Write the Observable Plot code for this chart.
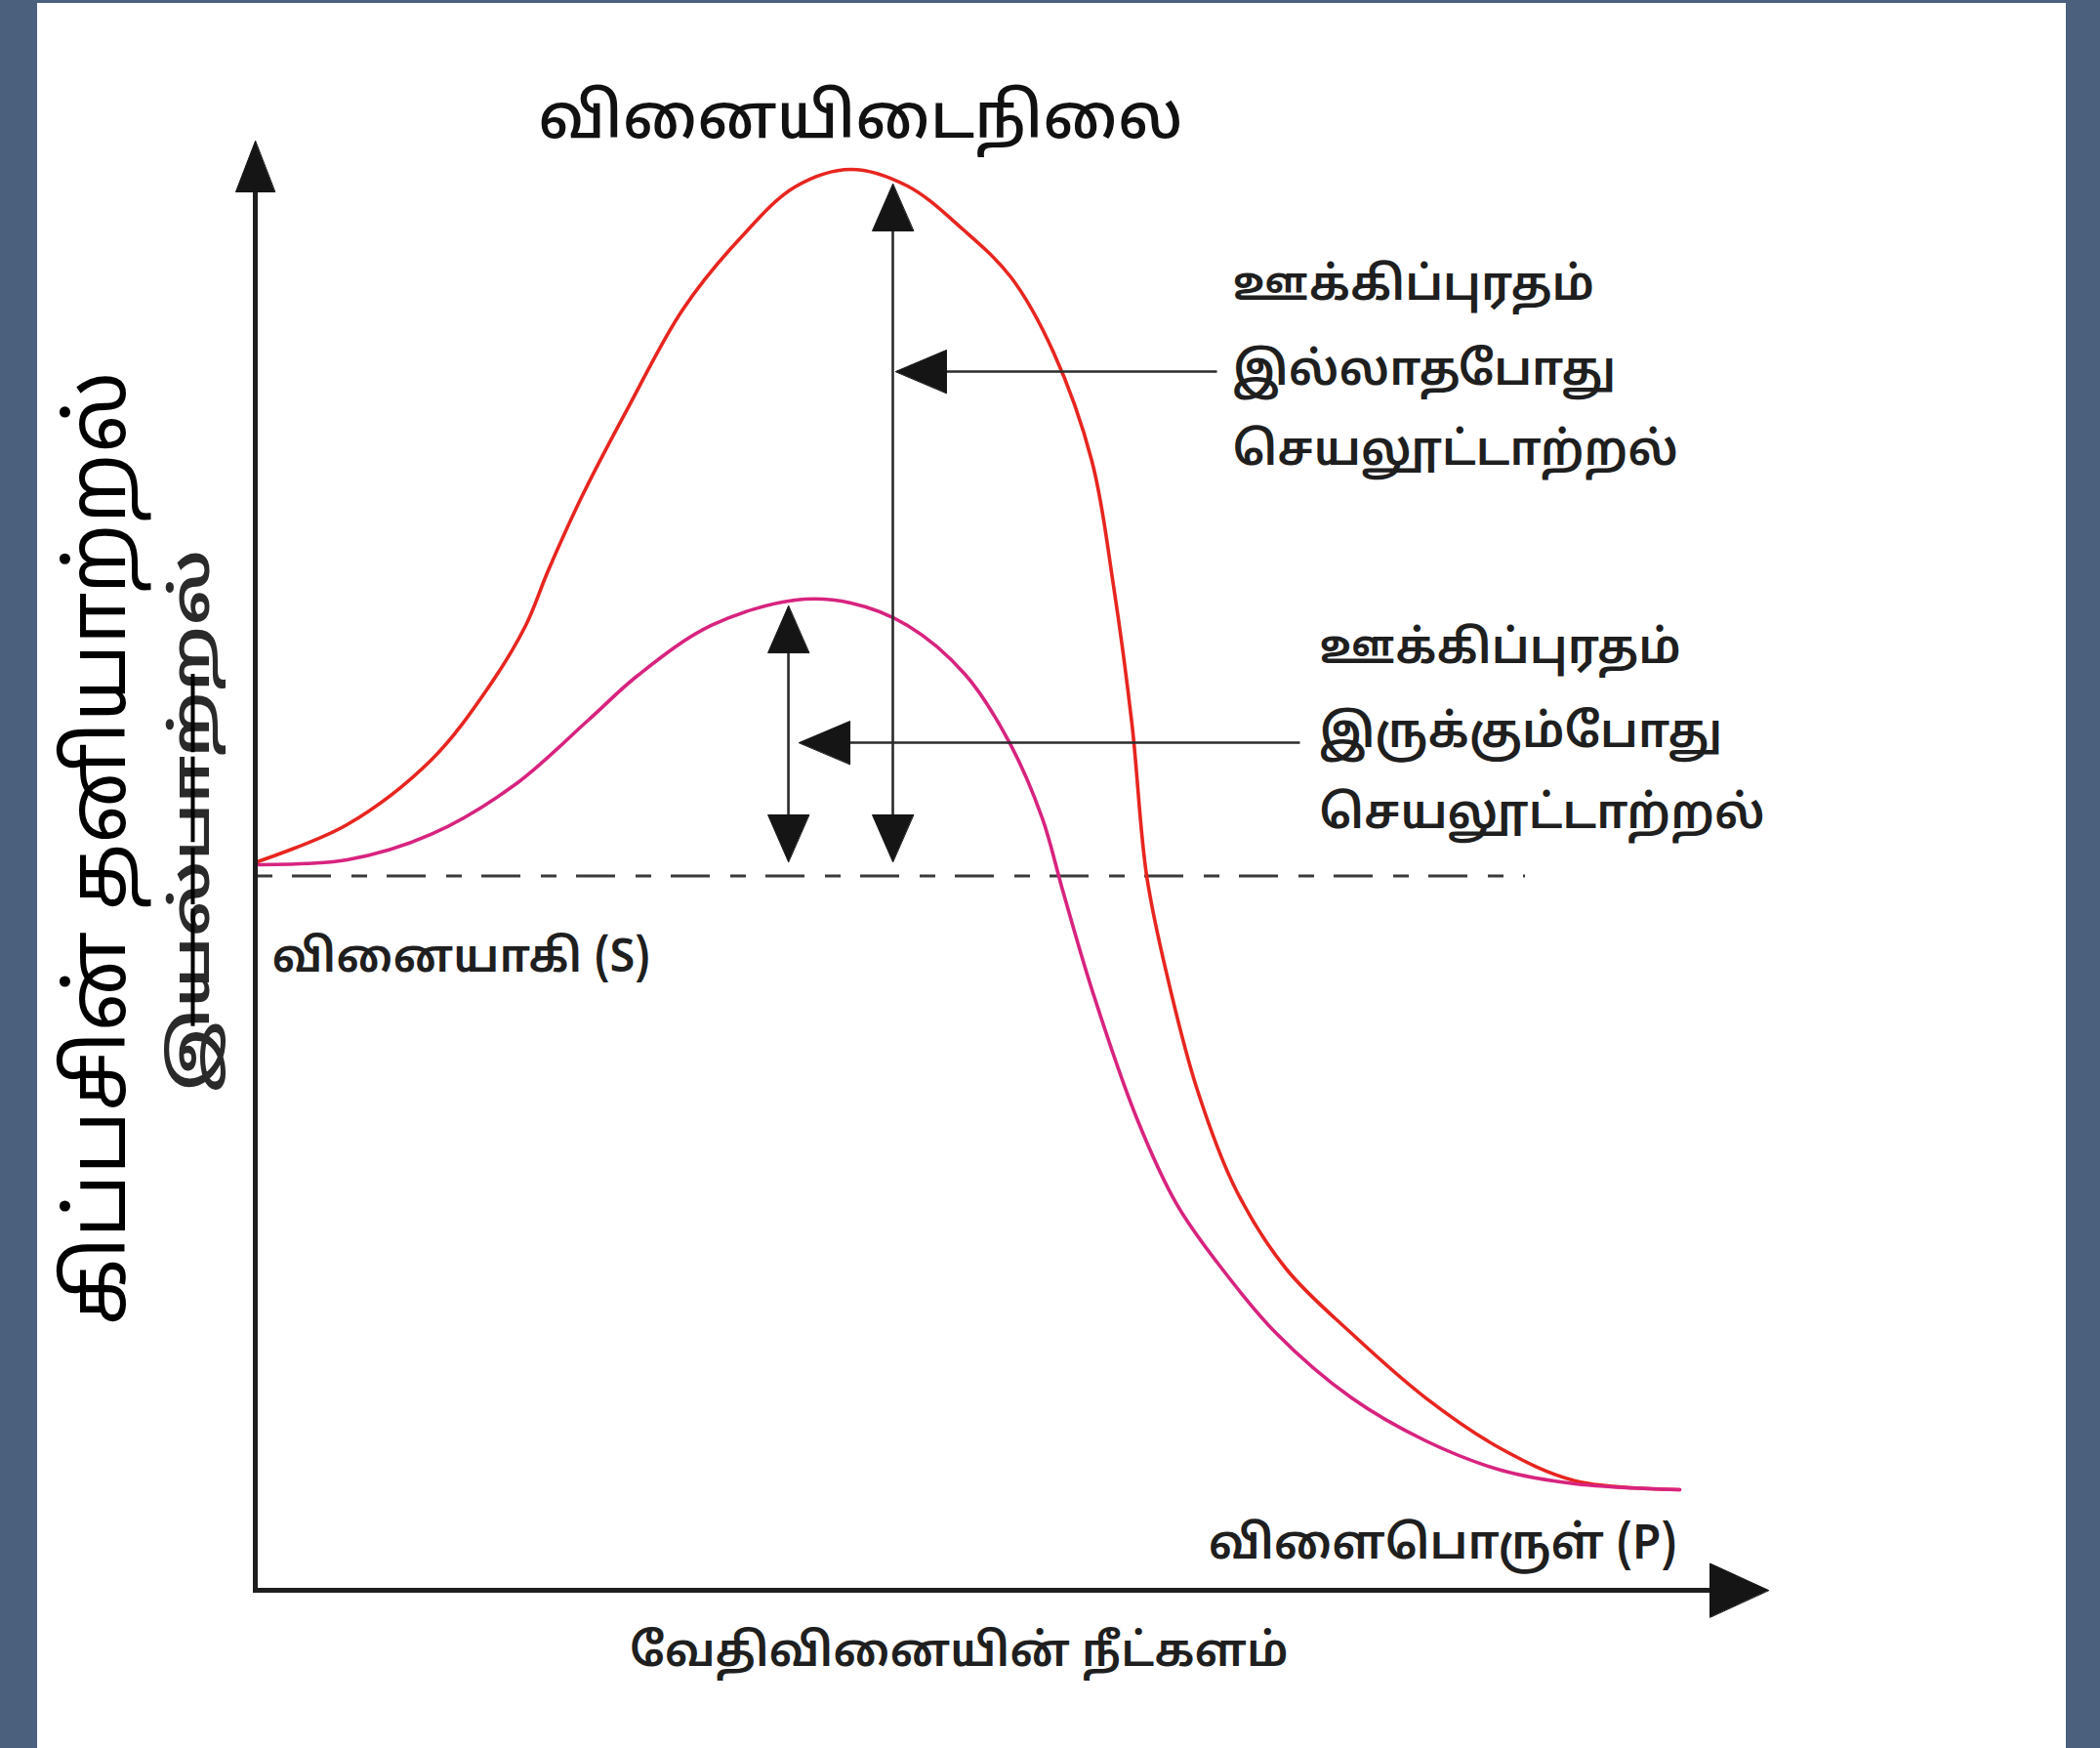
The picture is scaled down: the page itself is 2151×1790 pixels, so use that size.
<!DOCTYPE html>
<html><head><meta charset="utf-8">
<script src="https://cdn.jsdelivr.net/npm/d3@7"></script>
<script src="https://cdn.jsdelivr.net/npm/@observablehq/plot@0.6"></script>
<style>
html,body{margin:0;padding:0;background:#4b607d;width:2151px;height:1790px;overflow:hidden}
#panel{position:absolute;left:38px;top:3px;width:2078px;height:1787px;background:#fff}
</style></head><body><div id="panel"></div>
<script>
// ---- data (reaction coordinate 0..100, free energy 0..100) ----
const redX  = [0.13, 6.06, 11.61, 15.29, 17.87, 19.35, 21.61, 24.58, 28.26, 32.0, 35.68, 39.35, 43.10, 46.77, 49.94, 52.71, 55.29, 56.71, 57.94, 58.90, 60.26, 62.26, 64.84, 68.13, 72.45, 77.35, 82.32, 87.23, 94.13];
const redY  = [50.27, 52.83, 57.28, 62.13, 66.58, 70.35, 75.54, 81.5, 88.4, 93.25, 96.85, 98.05, 96.9, 93.9, 90.6, 85.51, 77.90, 69.34, 59.70, 49.33, 42.39, 34.50, 27.56, 22.17, 17.72, 13.27, 9.77, 7.55, 6.94];
const pinkX = [0.13, 6.06, 11.61, 17.16, 22.0, 25.29, 30.13, 35.68, 39.35, 43.10, 46.90, 49.74, 52.0, 53.35, 55.29, 58.26, 60.90, 63.55, 67.48, 72.45, 77.35, 82.32, 87.23, 94.13];
const pinkY = [50.07, 50.40, 52.16, 55.59, 60.04, 63.14, 66.58, 68.33, 68.13, 66.58, 63.21, 58.69, 53.30, 48.31, 41.44, 32.55, 26.62, 22.64, 17.72, 13.27, 10.31, 8.29, 7.35, 6.94];

const substrateLevel = 49.3;
const substrateSpan = [0.13, 83.94];

// activation-energy double arrows (uncatalysed, catalysed)
const actX      = [42.13, 35.23];
const actTop    = [97.04, 67.92];
const actBottom = [50.27, 50.27];

// pointer arrows from the labels
const ptrY   = [84.10, 58.49];
const ptrTip = [42.32, 35.94];
const ptrEnd = [63.55, 69.03];

// axes (origin and arrow tips)
const axisMax = 100;

// texts
const titleText = "வினையிடைநிலை";
const yLabel = "கிப்பசின் தனியாற்றல்";
const yLabelOld = "இயல்பாற்றல்";
const xLabel = "வேதிவினையின் நீட்களம்";
const substrateLabel = "வினையாகி (S)";
const productLabel = "விளைபொருள் (P)";
const noCatLines = ["ஊக்கிப்புரதம்", "இல்லாதபோது", "செயலூட்டாற்றல்"];
const catLines   = ["ஊக்கிப்புரதம்", "இருக்கும்போது", "செயலூட்டாற்றல்"];

// label anchor positions (data units)
const titlePos = [40.0, 101.6];
const noCatPos = {x: 64.58, y: [90.1, 84.2, 78.7]};
const catPos   = {x: 70.3,  y: [65.0, 59.2, 53.6]};
const substratePos = [1.1, 43.7];
const productPos = [93.95, 3.25];
const xLabelPos = [46.5, -4.2];
const yLabelPos = [-10.3, 51.2];
const yLabelOldPos = [-4.19, 53.1];
const strikeX = -4.13;
const strikeSegs = [[63.2, 57.8], [57.5, 51.6], [51.2, 47.3], [47.0, 38.9]];

// ---- scales ----
const W = 2078, H = 1787;
const xDomain = [0, 100], xRange = [223, 1773];
const yDomain = [0, 100], yRange = [1625, 141];
const PX = (xRange[1] - xRange[0]) / (xDomain[1] - xDomain[0]);
const PY = (yRange[0] - yRange[1]) / (yDomain[1] - yDomain[0]);

const TAMIL = '"Noto Sans Tamil","Lohit Tamil","Noto Serif Tamil","Noto Sans","DejaVu Sans",sans-serif';

// arrowhead polygon from tip, direction and size in pixels
function head(id, tx, ty, dir, L, Wd) {
  const lx = L / PX, ly = L / PY, wx = Wd / 2 / PX, wy = Wd / 2 / PY;
  let pts;
  if (dir === "up") pts = [[tx, ty], [tx - wx, ty - ly], [tx + wx, ty - ly]];
  else if (dir === "down") pts = [[tx, ty], [tx - wx, ty + ly], [tx + wx, ty + ly]];
  else if (dir === "left") pts = [[tx, ty], [tx + lx, ty + wy], [tx + lx, ty - wy]];
  else pts = [[tx, ty], [tx - lx, ty + wy], [tx - lx, ty - wy]];
  return pts.map(([x, y]) => ({id, x, y}));
}

const red = redX.map((x, i) => ({x, y: redY[i]}));
const pink = pinkX.map((x, i) => ({x, y: pinkY[i]}));

const heads = [];
const shafts = [];
const smallL = 48, smallW = 42;
actX.forEach((x, i) => {
  heads.push(...head("au" + i, x, actTop[i], "up", smallL, smallW));
  heads.push(...head("ad" + i, x, actBottom[i], "down", smallL, smallW));
  shafts.push({x1: x, y1: actBottom[i] + smallL / 2 / PY, x2: x, y2: actTop[i] - smallL / 2 / PY});
});
ptrY.forEach((y, i) => {
  heads.push(...head("p" + i, ptrTip[i], y, "left", 52, 44));
  shafts.push({x1: ptrTip[i] + 26 / PX, y1: y, x2: ptrEnd[i], y2: y});
});
heads.push(...head("yax", 0, axisMax, "up", 52, 40));
heads.push(...head("xax", axisMax, 0, "right", 60, 55));
const axes = [
  {x1: 0, y1: -0.17, x2: 0, y2: axisMax - 26 / PY},
  {x1: -0.13, y1: 0, x2: axisMax - 30 / PX, y2: 0}
];

const noCat = noCatLines.map((t, i) => ({x: noCatPos.x, y: noCatPos.y[i], t}));
const cat = catLines.map((t, i) => ({x: catPos.x, y: catPos.y[i], t}));
const strikes = strikeSegs.map(([a, b]) => ({x: strikeX, y1: a, y2: b}));

const chart = Plot.plot({
  width: W, height: H,
  margin: 0,
  x: {domain: xDomain, range: xRange, axis: null},
  y: {domain: yDomain, range: yRange, axis: null},
  style: {background: "white", fontFamily: TAMIL, color: "#1a1a1a"},
  marks: [
    Plot.ruleY([substrateLevel], {x1: substrateSpan[0], x2: substrateSpan[1], stroke: "#3a3a3a", strokeWidth: 3, strokeDasharray: "16,20,40,21"}),
    Plot.line(red, {x: "x", y: "y", curve: "catmull-rom", stroke: "#e8251f", strokeWidth: 3.6}),
    Plot.line(pink, {x: "x", y: "y", curve: "catmull-rom", stroke: "#d8237f", strokeWidth: 3.6}),
    Plot.link(shafts, {x1: "x1", y1: "y1", x2: "x2", y2: "y2", stroke: "#2b2b2b", strokeWidth: 2.6}),
    Plot.link(axes, {x1: "x1", y1: "y1", x2: "x2", y2: "y2", stroke: "#1e1e1e", strokeWidth: 5}),
    Plot.line(heads, {x: "x", y: "y", z: "id", curve: "linear-closed", fill: "#151515", stroke: "#151515", strokeWidth: 1}),
    Plot.text([titleText], {x: titlePos[0], y: titlePos[1], text: d => d, fontSize: 64, fontWeight: 500, fontFamily: TAMIL, fill: "#111"}),
    Plot.text(noCat, {x: "x", y: "y", text: "t", textAnchor: "start", fontSize: 48, fontWeight: 600, fontFamily: TAMIL, fill: "#1f1f1f"}),
    Plot.text(cat, {x: "x", y: "y", text: "t", textAnchor: "start", fontSize: 48, fontWeight: 600, fontFamily: TAMIL, fill: "#1f1f1f"}),
    Plot.text([substrateLabel], {x: substratePos[0], y: substratePos[1], text: d => d, textAnchor: "start", fontSize: 47, fontWeight: 600, fontFamily: TAMIL, fill: "#1f1f1f"}),
    Plot.text([productLabel], {x: productPos[0], y: productPos[1], text: d => d, textAnchor: "end", fontSize: 48, fontWeight: 600, fontFamily: TAMIL, fill: "#1f1f1f"}),
    Plot.text([xLabel], {x: xLabelPos[0], y: xLabelPos[1], text: d => d, fontSize: 47, fontWeight: 600, fontFamily: TAMIL, fill: "#1f1f1f"}),
    Plot.text([yLabel], {x: yLabelPos[0], y: yLabelPos[1], text: d => d, rotate: -90, fontSize: 83, fontWeight: 400, fontFamily: TAMIL, fill: "#000"}),
    Plot.text([yLabelOld], {x: yLabelOldPos[0], y: yLabelOldPos[1], text: d => d, rotate: -90, fontSize: 54, fontWeight: 600, fontFamily: TAMIL, fill: "#2a2a2a"}),
    Plot.ruleX(strikes, {x: "x", y1: "y1", y2: "y2", stroke: "#000", strokeWidth: 4})
  ]
});
// the struck-out label is set in a wider face in the original: stretch it to its length
d3.select(chart).selectAll("text")
  .filter(function () { return this.textContent === yLabelOld; })
  .attr("textLength", 556).attr("lengthAdjust", "spacingAndGlyphs");
document.getElementById("panel").appendChild(chart);
</script></body></html>
